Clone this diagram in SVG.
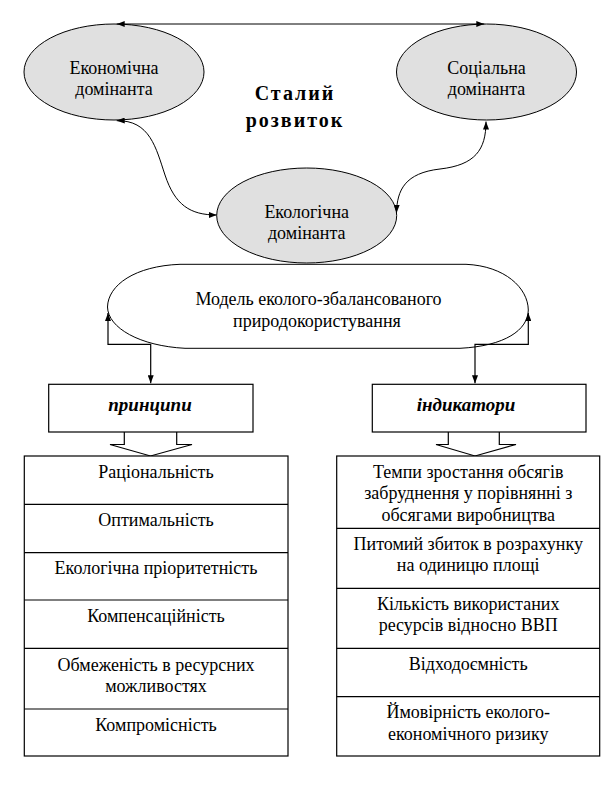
<svg xmlns="http://www.w3.org/2000/svg" width="613" height="793" viewBox="0 0 613 793">
<style>
text{font-family:"Liberation Serif","Times New Roman",serif;font-size:18px;fill:#000;text-anchor:middle}
.b{font-weight:bold;font-size:20px;letter-spacing:2px}
.bi{font-weight:bold;font-style:italic;font-size:19px}
.ell{fill:#e0e0e0;stroke:#000;stroke-width:1}
.box{fill:#fff;stroke:#000;stroke-width:1.2}
.ln{fill:none;stroke:#000;stroke-width:1}
.ln2{fill:none;stroke:#000;stroke-width:1.2}
</style>
<defs>
<marker id="ah" viewBox="0 0 8 6" refX="8" refY="3" markerWidth="8" markerHeight="6" markerUnits="userSpaceOnUse" orient="auto-start-reverse">
<path d="M0,0 L8,3 L0,6 z" fill="#000"/>
</marker>
</defs>
<rect width="613" height="793" fill="#fff"/>

<g id="economic">
<ellipse class="ell" cx="114" cy="72" rx="90" ry="48"/>
<text x="114" y="74">Економічна</text>
<text x="114" y="95">домінанта</text>
</g>
<g id="social">
<ellipse class="ell" cx="486.5" cy="72" rx="90" ry="48"/>
<text x="486.5" y="74">Соціальна</text>
<text x="486.5" y="95">домінанта</text>
</g>
<g id="ecological">
<ellipse class="ell" cx="306.7" cy="215.5" rx="90" ry="47.5"/>
<text x="306.7" y="218">Екологічна</text>
<text x="306.7" y="239">домінанта</text>
</g>
<g id="title">
<text class="b" x="295" y="100">Сталий</text>
<text class="b" x="295" y="127">розвиток</text>
</g>
<g id="model">
<path class="ln" d="M180,264.3 L466,264.3 C505,266 528,288 528.3,310 C528,330 505,346 460,348.3 L185,348.3 C140,346 108,328 107.5,307 C108,285 135,266 180,264.3 Z" fill="#fff"/>
<text x="318.5" y="305">Модель еколого-збалансованого</text>
<text x="317" y="327">природокористування</text>
</g>
<g id="principles-head">
<rect class="box" x="48.7" y="384.3" width="204.3" height="47.7"/>
<text class="bi" x="150" y="411">принципи</text>
<polyline class="ln2" fill="#fff" points="124.3,432 124.3,444.5 110,444.5 150.5,456 192,444.5 176.7,444.5 176.7,432"/>
</g>
<g id="indicators-head">
<rect class="box" x="372.3" y="384.3" width="213.7" height="47.7"/>
<text class="bi" x="466" y="411">індикатори</text>
<polyline class="ln2" fill="#fff" points="448.3,432 448.3,444.5 436,444.5 475,456 516,444.5 499.3,444.5 499.3,432"/>
</g>
<g id="principles">
<rect class="box" x="24.3" y="456" width="263.7" height="300"/>
<path class="ln2" d="M24.3,504.3 H288 M24.3,552.7 H288 M24.3,600 H288 M24.3,648.3 H288 M24.3,709 H288"/>
<text x="156" y="477.5">Раціональність</text>
<text x="156" y="525.8">Оптимальність</text>
<text x="156" y="574">Екологічна пріоритетність</text>
<text x="156" y="621.5">Компенсаційність</text>
<text x="156" y="670.5">Обмеженість в ресурсних</text>
<text x="156" y="692">можливостях</text>
<text x="156" y="730.5">Компромісність</text>
</g>
<g id="indicators">
<rect class="box" x="336.7" y="456" width="263" height="300"/>
<path class="ln2" d="M336.7,528.3 H599.7 M336.7,588.3 H599.7 M336.7,648.3 H599.7 M336.7,696.7 H599.7"/>
<text x="468.2" y="477.5">Темпи зростання обсягів</text>
<text x="468.2" y="499">забруднення у порівнянні з</text>
<text x="468.2" y="520.5">обсягами виробництва</text>
<text x="468.2" y="549.5">Питомий збиток в розрахунку</text>
<text x="468.2" y="571">на одиницю площі</text>
<text x="468.2" y="609.8">Кількість використаних</text>
<text x="468.2" y="631.3">ресурсів відносно ВВП</text>
<text x="468.2" y="670">Відходоємність</text>
<text x="468.2" y="718">Ймовірність еколого-</text>
<text x="468.2" y="739.5">економічного ризику</text>
</g>
<g id="connectors">
<path class="ln" d="M116.7,24 H484.3" marker-start="url(#ah)" marker-end="url(#ah)"/>
<path class="ln" d="M116.7,120.7 C150,120 156,148 165,175 C175,205 190,215 216.7,215" marker-start="url(#ah)" marker-end="url(#ah)"/>
<path class="ln" d="M486,121.5 C486,150 475,165 440,169 C405,173 397,190 396.5,213" marker-start="url(#ah)" marker-end="url(#ah)"/>
<path class="ln2" d="M150.7,383.3 V344.3 H108 V313" marker-start="url(#ah)" marker-end="url(#ah)"/>
<path class="ln2" d="M475,383.3 V344.3 H528.3 V313" marker-start="url(#ah)" marker-end="url(#ah)"/>
</g>
</svg>
